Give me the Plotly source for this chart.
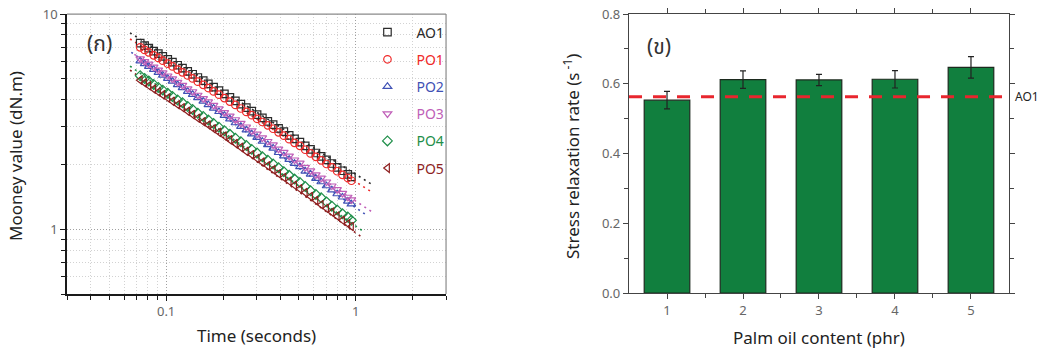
import plotly.graph_objects as go

# ---------------- Left panel data: Mooney relaxation ----------------
TIME = [0.073, 0.077, 0.081, 0.086, 0.091, 0.096, 0.102, 0.108, 0.115, 0.122,
        0.130, 0.138, 0.147, 0.157, 0.167, 0.178, 0.190, 0.203, 0.217, 0.232,
        0.248, 0.265, 0.283, 0.302, 0.322, 0.344, 0.367, 0.392, 0.418, 0.446,
        0.476, 0.508, 0.542, 0.578, 0.617, 0.658, 0.702, 0.749, 0.799, 0.852,
        0.909, 0.950]

AO1 = [7.33, 7.13, 6.95, 6.73, 6.54, 6.36, 6.16, 5.98, 5.78, 5.61,
       5.42, 5.25, 5.07, 4.90, 4.74, 4.57, 4.41, 4.26, 4.10, 3.95,
       3.81, 3.67, 3.54, 3.41, 3.29, 3.17, 3.06, 2.94, 2.84, 2.73,
       2.63, 2.54, 2.44, 2.35, 2.26, 2.18, 2.10, 2.02, 1.94, 1.87,
       1.80, 1.75]
PO1 = [7.00, 6.81, 6.64, 6.43, 6.25, 6.07, 5.88, 5.71, 5.52, 5.36,
       5.18, 5.02, 4.85, 4.69, 4.53, 4.37, 4.22, 4.07, 3.92, 3.78,
       3.64, 3.51, 3.39, 3.26, 3.15, 3.04, 2.93, 2.82, 2.72, 2.62,
       2.52, 2.44, 2.34, 2.25, 2.17, 2.09, 2.01, 1.94, 1.86, 1.79,
       1.73, 1.68]
PO2 = [6.05, 5.88, 5.71, 5.53, 5.35, 5.20, 5.02, 4.87, 4.69, 4.54,
       4.37, 4.23, 4.08, 3.93, 3.79, 3.65, 3.52, 3.38, 3.25, 3.12,
       3.00, 2.89, 2.77, 2.67, 2.56, 2.47, 2.38, 2.27, 2.19, 2.11,
       2.02, 1.95, 1.86, 1.80, 1.72, 1.66, 1.59, 1.52, 1.46, 1.41,
       1.35, 1.31]
PO3 = [6.20, 6.02, 5.86, 5.67, 5.49, 5.34, 5.16, 5.00, 4.82, 4.67,
       4.50, 4.36, 4.20, 4.05, 3.91, 3.77, 3.63, 3.49, 3.36, 3.23,
       3.11, 2.99, 2.87, 2.77, 2.66, 2.56, 2.47, 2.36, 2.28, 2.19,
       2.10, 2.03, 1.94, 1.87, 1.79, 1.73, 1.66, 1.59, 1.53, 1.47,
       1.41, 1.37]
PO4 = [5.17, 5.02, 4.88, 4.71, 4.56, 4.43, 4.28, 4.14, 3.99, 3.87,
       3.72, 3.60, 3.46, 3.34, 3.22, 3.10, 2.98, 2.87, 2.76, 2.65,
       2.55, 2.45, 2.35, 2.26, 2.17, 2.09, 2.01, 1.93, 1.85, 1.78,
       1.71, 1.65, 1.58, 1.51, 1.45, 1.40, 1.34, 1.28, 1.23, 1.18,
       1.14, 1.10]
PO5 = [4.93, 4.78, 4.64, 4.48, 4.34, 4.21, 4.07, 3.93, 3.79, 3.67,
       3.53, 3.41, 3.28, 3.16, 3.05, 2.93, 2.82, 2.71, 2.60, 2.50,
       2.40, 2.30, 2.22, 2.13, 2.05, 1.97, 1.89, 1.81, 1.74, 1.67,
       1.60, 1.54, 1.48, 1.42, 1.36, 1.30, 1.25, 1.20, 1.15, 1.10,
       1.06, 1.03]

SERIES_NAMES = ["AO1", "PO1", "PO2", "PO3", "PO4", "PO5"]
SERIES_VALUES = [AO1, PO1, PO2, PO3, PO4, PO5]

# fitted power-law lines (start / end points)
FIT_T_START = [0.0645, 0.0645, 0.0655, 0.068, 0.0645, 0.0645]
FIT_V_START = [8.18, 7.66, 6.64, 6.50, 5.73, 5.49]
FIT_T_END = [1.24, 1.23, 1.13, 1.21, 1.12, 1.06]
FIT_V_END = [1.60, 1.48, 1.17, 1.21, 0.965, 0.928]

# ---------------- Right panel data: stress relaxation rate ----------------
PALM_OIL = [1, 2, 3, 4, 5]
RATE = [0.553, 0.612, 0.611, 0.613, 0.647]
RATE_ERR = [0.025, 0.025, 0.016, 0.025, 0.031]
AO1_RATE = 0.563

# ---------------- styles ----------------
COLORS = ["#2b2b2b", "#f02a2a", "#3f51b5", "#c05fb8", "#1f8f4a", "#8e1f1f"]
SYMBOLS = ["square-open", "circle-open", "triangle-up-open",
           "triangle-down-open", "diamond-open", "triangle-left-open"]
FONT = "Noto Sans Thai, Tahoma, Noto Sans, DejaVu Sans, sans-serif"
TICKFONT = dict(family=FONT, size=13, color="#666")
GRID_DASH = "1px,2px"

fig = go.Figure()

for i, name in enumerate(SERIES_NAMES):
    fig.add_trace(go.Scatter(
        x=[FIT_T_START[i], FIT_T_END[i]], y=[FIT_V_START[i], FIT_V_END[i]],
        mode="lines", line=dict(color=COLORS[i], width=1.6, dash="2px,4px"),
        showlegend=False, hoverinfo="skip", xaxis="x", yaxis="y"))

for i, name in enumerate(SERIES_NAMES):
    fig.add_trace(go.Scatter(
        x=TIME, y=SERIES_VALUES[i], mode="markers",
        name=f'<span style="color:{COLORS[i]}">{name}</span>',
        legendgroup=name,
        marker=dict(symbol=SYMBOLS[i], size=7.5, color=COLORS[i],
                    line=dict(width=1.2, color=COLORS[i])),
        xaxis="x", yaxis="y"))

fig.add_trace(go.Bar(
    x=PALM_OIL, y=RATE, width=0.6,
    marker=dict(color="#117f3e", line=dict(color="#1c2a1e", width=1.2)),
    error_y=dict(type="data", array=RATE_ERR, color="#222", thickness=1.2, width=3),
    showlegend=False, xaxis="x2", yaxis="y2"))

fig.update_layout(
    width=1039, height=351,
    margin=dict(l=0, r=0, t=0, b=0, autoexpand=False),
    paper_bgcolor="white", plot_bgcolor="white",
    font=dict(family=FONT, color="#222"),
    showlegend=True,
    legend=dict(x=0.345, y=0.953, xanchor="left", yanchor="top",
                bgcolor="rgba(0,0,0,0)", font=dict(family=FONT, size=14),
                itemwidth=48, tracegroupgap=6, traceorder="grouped"),
    xaxis=dict(
        type="log", range=[-1.5229, 0.4771], domain=[0.0645, 0.4293],
        anchor="y", automargin=False,
        showline=True, linecolor="#1a1a1a", linewidth=1.5,
        ticks="outside", ticklen=5, tickcolor="#1a1a1a",
        tickvals=[0.1, 1], ticktext=["0.1", "1"], tickfont=TICKFONT,
        showgrid=True, gridcolor="#a0a0a0", griddash=GRID_DASH, gridwidth=1,
        minor=dict(tickvals=[0.03, 0.04, 0.05, 0.06, 0.07, 0.08, 0.09,
                             0.2, 0.3, 0.4, 0.5, 0.6, 0.7, 0.8, 0.9, 2, 3],
                   ticks="outside", ticklen=4, tickcolor="#1a1a1a",
                   showgrid=True, gridcolor="#d2d2d2", griddash=GRID_DASH,
                   gridwidth=1),
        zeroline=False),
    yaxis=dict(
        type="log", range=[-0.30103, 1], domain=[0.1624, 0.960],
        anchor="x", automargin=False,
        showline=True, linecolor="#1a1a1a", linewidth=1.5,
        ticks="outside", ticklen=5, tickcolor="#1a1a1a",
        tickvals=[1, 10], ticktext=["1", "10"], tickfont=TICKFONT,
        showgrid=True, gridcolor="#a0a0a0", griddash=GRID_DASH, gridwidth=1,
        minor=dict(tickvals=[0.5, 0.6, 0.7, 0.8, 0.9, 2, 3, 4, 5, 6, 7, 8, 9],
                   ticks="outside", ticklen=4, tickcolor="#1a1a1a",
                   showgrid=True, gridcolor="#d2d2d2", griddash=GRID_DASH,
                   gridwidth=1),
        zeroline=False),
    xaxis2=dict(
        range=[0.5, 5.5], domain=[0.6054, 0.9711], anchor="y2",
        automargin=False,
        showline=True, linecolor="#444", linewidth=1.2, mirror="ticks",
        ticks="outside", ticklen=5, tickcolor="#444",
        tickvals=PALM_OIL, tickfont=TICKFONT,
        minor=dict(tickvals=[1.5, 2.5, 3.5, 4.5], ticks="outside",
                   ticklen=4, tickcolor="#444"),
        showgrid=False, zeroline=False),
    yaxis2=dict(
        range=[0, 0.8], domain=[0.165, 0.960], anchor="x2",
        automargin=False,
        showline=True, linecolor="#444", linewidth=1.2, mirror="ticks",
        ticks="outside", ticklen=5, tickcolor="#444",
        dtick=0.2, tickformat=".1f", tickfont=TICKFONT,
        minor=dict(dtick=0.1, ticks="outside", ticklen=4, tickcolor="#444"),
        showgrid=False, zeroline=False),
)

# top/right borders of left panel in lighter grey
fig.add_shape(type="line", xref="x domain", yref="y domain",
              x0=0, x1=1, y0=1, y1=1, line=dict(color="#8a8a8a", width=1.2))
fig.add_shape(type="line", xref="x domain", yref="y domain",
              x0=1, x1=1, y0=0, y1=1, line=dict(color="#8a8a8a", width=1.2))

# AO1 reference line on the right panel
fig.add_shape(type="line", xref="x2", yref="y2", x0=0.5, x1=5.5,
              y0=AO1_RATE, y1=AO1_RATE,
              line=dict(color="#e8262e", width=3, dash="13px,11px"))

ann = [
    dict(text="AO1", x=1013 / 1039, y=AO1_RATE, xref="paper", yref="y2",
         xanchor="left", yanchor="middle", showarrow=False,
         font=dict(family=FONT, size=12, color="#222")),
    dict(text="(ก)", x=99 / 1039, y=1 - 45 / 351, xref="paper", yref="paper",
         xanchor="center", yanchor="middle", showarrow=False,
         font=dict(family=FONT, size=21, color="#333")),
    dict(text="(ข)", x=659 / 1039, y=1 - 47 / 351, xref="paper", yref="paper",
         xanchor="center", yanchor="middle", showarrow=False,
         font=dict(family=FONT, size=21, color="#333")),
    dict(text="Mooney value (dN.m)", x=17 / 1039, y=1 - 156 / 351,
         xref="paper", yref="paper", textangle=-90, showarrow=False,
         xanchor="center", yanchor="middle",
         font=dict(family=FONT, size=17, color="#222")),
    dict(text="Time (seconds)", x=256 / 1039, y=1 - 337 / 351,
         xref="paper", yref="paper", showarrow=False,
         xanchor="center", yanchor="middle",
         font=dict(family=FONT, size=17, color="#222")),
    dict(text="Stress relaxation rate (s<sup> -1</sup>)", x=573 / 1039,
         y=1 - 157 / 351, xref="paper", yref="paper", textangle=-90,
         showarrow=False, xanchor="center", yanchor="middle",
         font=dict(family=FONT, size=17, color="#222")),
    dict(text="Palm oil content (phr)", x=819 / 1039, y=1 - 339 / 351,
         xref="paper", yref="paper", showarrow=False,
         xanchor="center", yanchor="middle",
         font=dict(family=FONT, size=17, color="#222")),
]
fig.update_layout(annotations=ann)

fig.write_html("out.html")
